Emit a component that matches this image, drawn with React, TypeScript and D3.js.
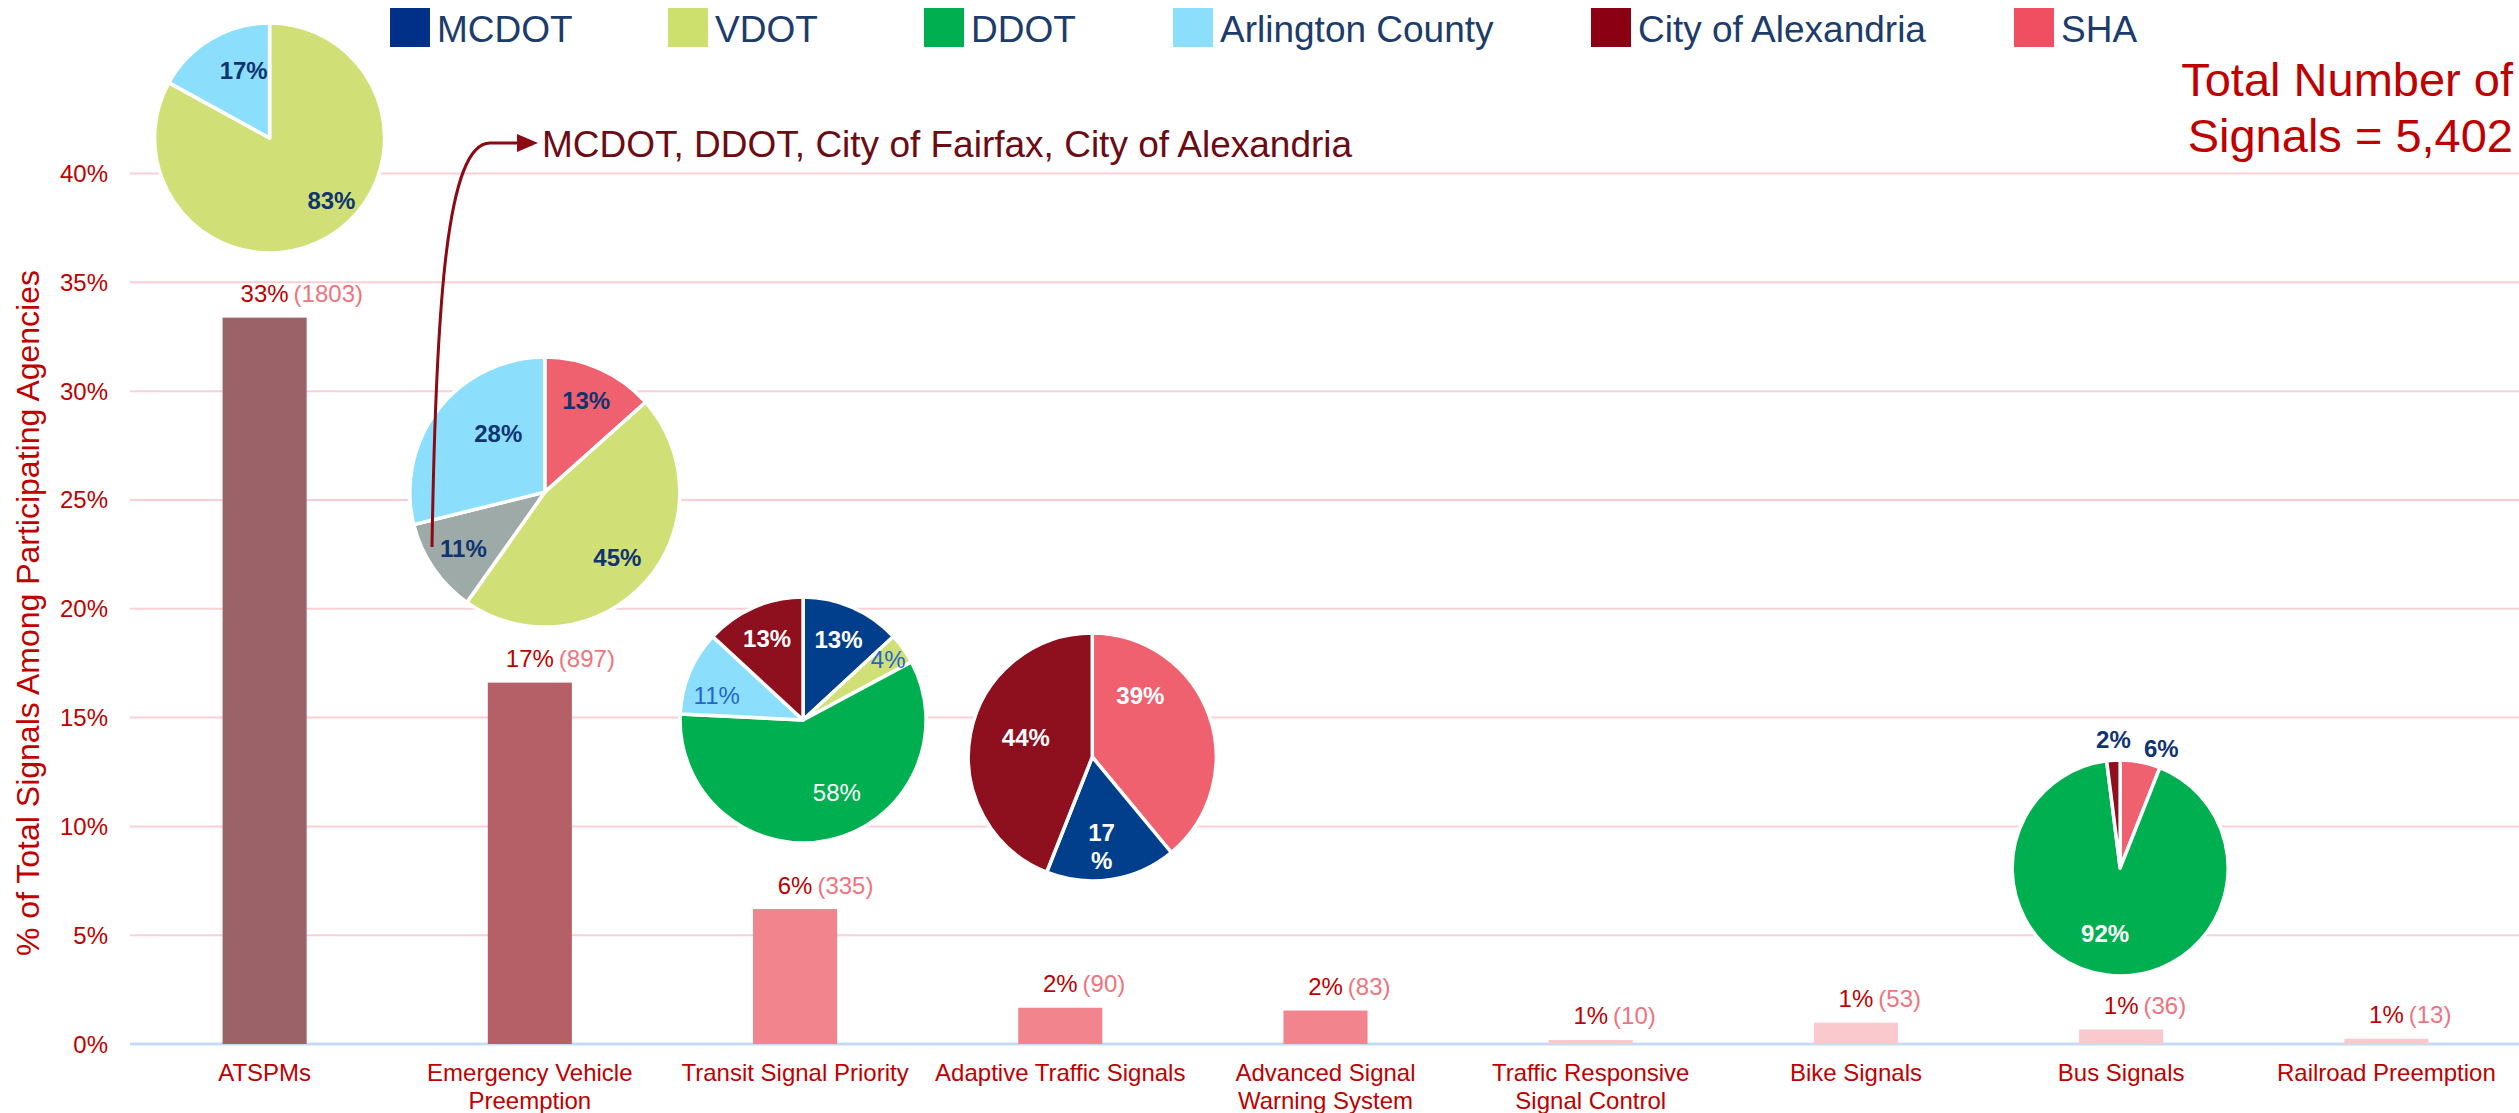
import React from "react";
import * as d3 from "d3";

// ---- data ----
const categories = [
  "ATSPMs",
  "Emergency Vehicle\nPreemption",
  "Transit Signal Priority",
  "Adaptive Traffic Signals",
  "Advanced Signal\nWarning System",
  "Traffic Responsive\nSignal Control",
  "Bike Signals",
  "Bus Signals",
  "Railroad Preemption",
];
const signalCounts = [1803, 897, 335, 90, 83, 10, 53, 36, 13];
const totalSignals = 5402;
const pctLabels = ["33%", "17%", "6%", "2%", "2%", "1%", "1%", "1%", "1%"];
const yTicks = [0, 5, 10, 15, 20, 25, 30, 35, 40];

const agencies = ["MCDOT", "VDOT", "DDOT", "Arlington County", "City of Alexandria", "SHA"];

// agency shares (in %) inside each small pie
const atspmAgencies = ["VDOT", "Arlington County"];
const atspmShares = [83, 17];
const evpAgencies = ["SHA", "VDOT", "Others", "Arlington County"];
const evpShares = [13, 45, 11, 28];
const tspAgencies = ["MCDOT", "VDOT", "DDOT", "Arlington County", "City of Alexandria"];
const tspShares = [13, 4, 58, 11, 13];
const adaptiveAgencies = ["SHA", "MCDOT", "City of Alexandria"];
const adaptiveShares = [39, 17, 44];
const busAgencies = ["SHA", "DDOT", "City of Alexandria"];
const busShares = [6, 92, 2];

const annotationText = "MCDOT, DDOT, City of Fairfax, City of Alexandria";
const titleLines = ["Total Number of", "Signals = 5,402"];
const yTitle = "% of Total Signals Among Participating Agencies";

// ---- styles ----
const FONT = "'Liberation Sans', Arial, Helvetica, sans-serif";
const RED = "#c00000";
const COUNT_RED = "#f0737d";
const NAVY = "#0f3471";
const agencyColor: Record<string, string> = {
  MCDOT: "#013f8c",
  VDOT: "#d0e076",
  DDOT: "#00b050",
  "Arlington County": "#8cdffc",
  "City of Alexandria": "#8e0f1e",
  SHA: "#f0616f",
  Others: "#9eaaa7",
};
const legendColor: Record<string, string> = {
  MCDOT: "#003087",
  VDOT: "#cddf6c",
  DDOT: "#00b050",
  "Arlington County": "#8cdffc",
  "City of Alexandria": "#8b0012",
  SHA: "#ef4f60",
};
const barColors = ["#9b6268", "#b55f67", "#f2848e", "#f2848e", "#f2848e", "#fac9cd", "#fac9cd", "#fac9cd", "#fac9cd"];
const legendX = [390, 668, 924, 1173, 1591, 2014];

type LabelStyle = { k: number; a?: number; fill: string; bold: boolean; wrap?: boolean };
const pies = [
  {
    cat: 0, names: atspmAgencies, values: atspmShares, dx: 5, cy: 41.63, r: 115,
    labels: [
      { k: 0.76, a: 135, fill: NAVY, bold: true },
      { k: 0.63, a: 339, fill: NAVY, bold: true },
    ] as LabelStyle[],
  },
  {
    cat: 1, names: evpAgencies, values: evpShares, dx: 15, cy: 25.36, r: 135,
    labels: [
      { k: 0.75, fill: NAVY, bold: true },
      { k: 0.72, fill: NAVY, bold: true },
      { k: 0.73, fill: NAVY, bold: true },
      { k: 0.56, a: 322, fill: NAVY, bold: true },
    ] as LabelStyle[],
  },
  {
    cat: 2, names: tspAgencies, values: tspShares, dx: 8, cy: 14.89, r: 123,
    labels: [
      { k: 0.72, fill: "#ffffff", bold: true },
      { k: 0.85, fill: "#2566c8", bold: false },
      { k: 0.65, a: 155, fill: "#ffffff", bold: false },
      { k: 0.73, a: 286, fill: "#2566c8", bold: false },
      { k: 0.73, fill: "#ffffff", bold: true },
    ] as LabelStyle[],
  },
  {
    cat: 3, names: adaptiveAgencies, values: adaptiveShares, dx: 32, cy: 13.19, r: 124,
    labels: [
      { k: 0.63, a: 38, fill: "#ffffff", bold: true },
      { k: 0.72, a: 174, fill: "#ffffff", bold: true, wrap: true },
      { k: 0.56, a: 287, fill: "#ffffff", bold: true },
    ] as LabelStyle[],
  },
  {
    cat: 7, names: busAgencies, values: busShares, dx: -1, cy: 8.09, r: 108,
    labels: [
      { k: 1.17, a: 19, fill: NAVY, bold: true },
      { k: 0.62, a: 193, fill: "#ffffff", bold: true },
      { k: 1.2, a: 357, fill: NAVY, bold: true },
    ] as LabelStyle[],
  },
];

const W = 2519;
const H = 1113;

export default function App() {
  const x = d3
    .scaleBand<string>()
    .domain(categories)
    .range([132, W])
    .paddingInner(0.683)
    .paddingOuter(0.3415);
  const y = d3.scaleLinear().domain([0, 40]).range([1044, 173.5]);
  const cx = (i: number) => (x(categories[i]) as number) + x.bandwidth() / 2;
  const pct = (c: number) => (c / totalSignals) * 100;

  const pieGen = d3.pie<number>().sort(null).value((d) => d);

  // annotation arrow
  const arrow = d3.path();
  arrow.moveTo(432, 547);
  arrow.bezierCurveTo(436, 300, 447, 143, 490, 143);
  arrow.lineTo(522, 143);

  return (
    <svg width={W} height={H} style={{ position: "absolute", left: 0, top: 0, background: "#fff" }} fontFamily={FONT}>
      {/* gridlines */}
      {yTicks.slice(1).map((t) => (
        <line key={t} x1={130} x2={W} y1={y(t)} y2={y(t)} stroke="#fbd0d4" strokeWidth={2} />
      ))}
      <line x1={130} x2={W} y1={y(0)} y2={y(0)} stroke="#c5dbf6" strokeWidth={3} />

      {/* y ticks */}
      {yTicks.map((t) => (
        <text key={t} x={108} y={y(t)} textAnchor="end" dominantBaseline="central" fontSize={24} fill={RED}>
          {t}%
        </text>
      ))}
      <text
        transform={`translate(28, 613) rotate(-90)`}
        textAnchor="middle"
        dominantBaseline="central"
        fontSize={32}
        fill={RED}
      >
        {yTitle}
      </text>

      {/* bars */}
      {categories.map((c, i) => (
        <rect
          key={c}
          x={x(c)}
          y={y(pct(signalCounts[i]))}
          width={x.bandwidth()}
          height={y(0) - y(pct(signalCounts[i]))}
          fill={barColors[i]}
        />
      ))}

      {/* value labels */}
      {categories.map((c, i) => {
        const ty = y(pct(signalCounts[i])) - 24;
        const pw = ((pctLabels[i].length - 1) * 0.556 + 0.889) * 24;
        return (
          <g key={c} fontSize={24}>
            <text x={cx(i)} y={ty} textAnchor="middle" dominantBaseline="central" fill={RED}>
              {pctLabels[i]}
            </text>
            <text x={cx(i) + pw / 2 + 5} y={ty} dominantBaseline="central" fill={COUNT_RED}>
              ({signalCounts[i]})
            </text>
          </g>
        );
      })}

      {/* x labels */}
      {categories.map((c, i) => (
        <text key={c} x={cx(i)} y={1081} textAnchor="middle" fontSize={24} fill={RED}>
          {c.split("\n").map((ln, j) => (
            <tspan key={j} x={cx(i)} dy={j === 0 ? 0 : 28}>
              {ln}
            </tspan>
          ))}
        </text>
      ))}

      {/* pies */}
      {pies.map((p, pi) => {
        const pcx = cx(p.cat) + p.dx;
        const pcy = y(p.cy);
        const arcs = pieGen(p.values);
        const arcGen = d3.arc<d3.PieArcDatum<number>>().innerRadius(0).outerRadius(p.r);
        return (
          <g key={pi} transform={`translate(${pcx},${pcy})`}>
            {arcs.map((a, j) => (
              <path
                key={j}
                d={arcGen(a) as string}
                fill={agencyColor[p.names[j]]}
                stroke="#ffffff"
                strokeWidth={3.5}
                strokeLinejoin="round"
              />
            ))}
            {arcs.map((a, j) => {
              const ls = p.labels[j];
              const ang = ls.a !== undefined ? (ls.a * Math.PI) / 180 : (a.startAngle + a.endAngle) / 2;
              const lx = Math.sin(ang) * p.r * ls.k;
              const ly = -Math.cos(ang) * p.r * ls.k;
              const txt = `${p.values[j]}%`;
              const lines = ls.wrap ? [String(p.values[j]), "%"] : [txt];
              return (
                <text
                  key={`l${j}`}
                  x={lx}
                  y={ly - ((lines.length - 1) * 28) / 2}
                  textAnchor="middle"
                  dominantBaseline="central"
                  fontSize={24}
                  fontWeight={ls.bold ? "bold" : "normal"}
                  fill={ls.fill}
                >
                  {lines.map((ln, k) => (
                    <tspan key={k} x={lx} dy={k === 0 ? 0 : 28}>
                      {ln}
                    </tspan>
                  ))}
                </text>
              );
            })}
          </g>
        );
      })}

      {/* annotation */}
      <path d={arrow.toString()} fill="none" stroke="#8b0a14" strokeWidth={3} />
      <polygon points="517,134 538,143 517,152" fill="#8b0a14" />
      <text x={542} y={157} fontSize={37} fill="#6d0b15">
        {annotationText}
      </text>

      {/* legend */}
      {agencies.map((a, i) => (
        <g key={a}>
          <rect x={legendX[i]} y={8} width={40} height={39} fill={legendColor[a]} />
          <text x={legendX[i] + 47} y={42} fontSize={37} fill="#1c3c6c">
            {a}
          </text>
        </g>
      ))}

      {/* title */}
      {titleLines.map((t, i) => (
        <text key={t} x={2513} y={96 + i * 56} textAnchor="end" fontSize={47} fill={RED}>
          {t}
        </text>
      ))}
    </svg>
  );
}
